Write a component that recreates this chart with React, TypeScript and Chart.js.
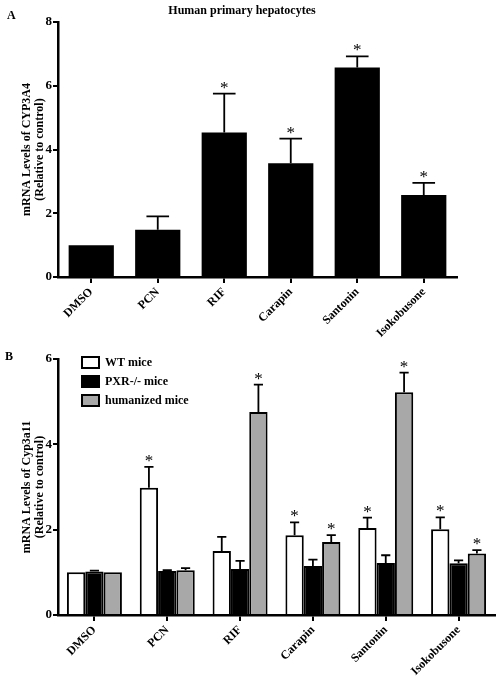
import React, { useEffect, useRef } from 'react';
import { Chart, registerables } from 'chart.js';

Chart.register(...registerables);

const SERIF = '"Liberation Serif", "Times New Roman", serif';

// Panel A data
const categories = ['DMSO', 'PCN', 'RIF', 'Carapin', 'Santonin', 'Isokobusone'];
const humanMeans = [1.0, 1.48, 4.53, 3.57, 6.57, 2.57];
const humanErrors = [0, 0.42, 1.22, 0.77, 0.35, 0.38];
const humanSig = [false, false, true, true, true, true];
const yTicksA = { max: 8, step: 2 };

// Panel B data
const seriesNames = ['WT mice', 'PXR-/- mice', 'humanized mice'];
const wtMeans = [1.0, 2.98, 1.5, 1.87, 2.04, 2.01];
const wtErrors = [0, 0.49, 0.33, 0.3, 0.24, 0.28];
const wtSig = [false, true, false, true, true, true];
const pxrMeans = [1.02, 1.03, 1.08, 1.15, 1.22, 1.21];
const pxrErrors = [0.02, 0.02, 0.19, 0.15, 0.18, 0.07];
const pxrSig = [false, false, false, false, false, false];
const humMeans = [1.0, 1.05, 4.76, 1.71, 5.22, 1.44];
const humErrors = [0, 0.05, 0.64, 0.16, 0.46, 0.08];
const humSig = [false, false, true, true, true, true];
const yTicksB = { max: 6, step: 2 };

const seriesColors = ['#ffffff', '#000000', '#a8a8a8'];

function overlayPlugin(errors: number[][], stars: boolean[][], extra?: (chart: any) => void) {
  return {
    id: 'overlay',
    afterDatasetsDraw(chart: any) {
      const ctx = chart.ctx;
      const y = chart.scales.y;
      ctx.save();
      chart.data.datasets.forEach((ds: any, i: number) => {
        const meta = chart.getDatasetMeta(i);
        meta.data.forEach((bar: any, j: number) => {
          const v = ds.data[j] as number;
          const e = errors[i][j];
          const top = y.getPixelForValue(v + e);
          const base = y.getPixelForValue(v);
          if (e > 0) {
            ctx.strokeStyle = '#000';
            ctx.lineWidth = 1.8;
            ctx.beginPath();
            ctx.moveTo(bar.x, base);
            ctx.lineTo(bar.x, top);
            const hw = bar.width / 4;
            ctx.moveTo(bar.x - hw, top);
            ctx.lineTo(bar.x + hw, top);
            ctx.stroke();
          }
          if (stars[i][j]) {
            ctx.font = `17px ${SERIF}`;
            ctx.textAlign = 'center';
            ctx.textBaseline = 'alphabetic';
            ctx.fillStyle = '#000';
            ctx.fillText('*', bar.x, top - 1);
          }
        });
      });
      if (extra) extra(chart);
      ctx.restore();
    },
  };
}

function baseOptions(yMax: number, step: number, yTitle: string[], padding: any, xHeight: number) {
  return {
    responsive: false,
    maintainAspectRatio: false,
    animation: false as const,
    layout: { padding },
    plugins: { legend: { display: false }, tooltip: { enabled: false }, title: { display: false } },
    scales: {
      x: {
        type: 'category' as const,
        offset: true,
        grid: { display: true, drawOnChartArea: false, drawTicks: true, tickLength: 6, offset: false, color: '#000', lineWidth: 2 },
        border: { display: true, color: '#000', width: 2.5 },
        ticks: {
          color: '#000',
          font: { family: SERIF, size: 12, weight: 'bold' as const },
          minRotation: 45,
          maxRotation: 45,
          padding: 2,
          autoSkip: false,
        },
        afterFit: (s: any) => { s.height = xHeight; },
      },
      y: {
        min: 0,
        max: yMax,
        grid: { display: true, drawOnChartArea: false, drawTicks: true, tickLength: 5, color: '#000', lineWidth: 2 },
        border: { display: true, color: '#000', width: 2.5 },
        ticks: { stepSize: step, color: '#000', font: { family: SERIF, size: 13, weight: 'bold' as const }, padding: 1 },
        title: {
          display: true,
          text: yTitle,
          color: '#000',
          font: { family: SERIF, size: 12, weight: 'bold' as const, lineHeight: 1.1 },
          padding: { top: 20, bottom: 0 },
        },
        afterFit: (s: any) => { s.width = 58; },
      },
    },
  };
}

export default function App() {
  const refA = useRef<HTMLCanvasElement>(null);
  const refB = useRef<HTMLCanvasElement>(null);

  useEffect(() => {
    const textA = (chart: any) => {
      const ctx = chart.ctx;
      ctx.fillStyle = '#000';
      ctx.textBaseline = 'middle';
      ctx.font = `bold 12px ${SERIF}`;
      ctx.textAlign = 'center';
      ctx.fillText('Human primary hepatocytes', 242, 11);
      ctx.textAlign = 'left';
      ctx.fillText('A', 7, 16);
    };
    const chartA = new Chart(refA.current!, {
      type: 'bar',
      data: {
        labels: categories,
        datasets: [
          {
            data: humanMeans,
            backgroundColor: '#000',
            borderWidth: 0,
            categoryPercentage: 0.68,
            barPercentage: 1.0,
          },
        ],
      },
      options: baseOptions(yTicksA.max, yTicksA.step, ['mRNA Levels of CYP3A4', '(Relative to control)'], { top: 22, right: 44, left: 0, bottom: 0 }, 63) as any,
      plugins: [overlayPlugin([humanErrors], [humanSig], textA)],
    });

    const textB = (chart: any) => {
      const ctx = chart.ctx;
      ctx.fillStyle = '#000';
      ctx.textBaseline = 'middle';
      ctx.font = `bold 12px ${SERIF}`;
      ctx.textAlign = 'left';
      ctx.fillText('B', 5, 17);
      seriesNames.forEach((name, i) => {
        const yTop = 17 + i * 19;
        ctx.fillStyle = seriesColors[i];
        ctx.fillRect(82, yTop, 17, 11);
        ctx.strokeStyle = '#000';
        ctx.lineWidth = 2;
        ctx.strokeRect(82, yTop, 17, 11);
        ctx.fillStyle = '#000';
        ctx.fillText(name, 105, yTop + 5.5);
      });
    };
    const chartB = new Chart(refB.current!, {
      type: 'bar',
      data: {
        labels: categories,
        datasets: [wtMeans, pxrMeans, humMeans].map((d, i) => ({
          label: seriesNames[i],
          data: d,
          backgroundColor: seriesColors[i],
          borderColor: '#000',
          borderWidth: 2,
          categoryPercentage: 0.755,
          barPercentage: 1.0,
        })),
      },
      options: baseOptions(yTicksB.max, yTicksB.step, ['mRNA Levels of Cyp3a11', '(Relative to control)'], { top: 19, right: 6, left: 0, bottom: 0 }, 66) as any,
      plugins: [overlayPlugin([wtErrors, pxrErrors, humErrors], [wtSig, pxrSig, humSig], textB)],
    });

    return () => {
      chartA.destroy();
      chartB.destroy();
    };
  }, []);

  return (
    <div style={{ position: 'absolute', left: 0, top: 0, width: 501, height: 681, background: '#fff' }}>
      <canvas ref={refA} width={501} height={340} style={{ position: 'absolute', left: 0, top: 0, width: 501, height: 340 }} />
      <canvas ref={refB} width={501} height={341} style={{ position: 'absolute', left: 0, top: 340, width: 501, height: 341 }} />
    </div>
  );
}
